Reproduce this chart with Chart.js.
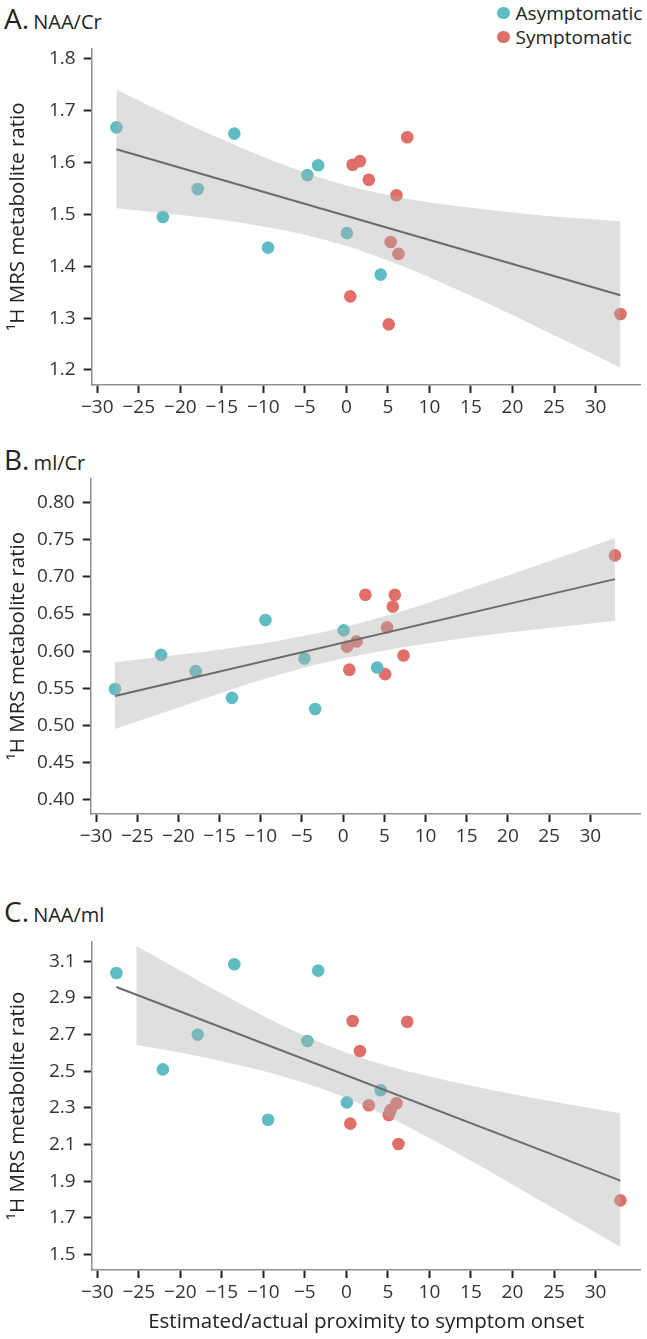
<!DOCTYPE html>
<html>
<head>
<meta charset="utf-8">
<script src="https://cdn.jsdelivr.net/npm/chart.js@4.4.1/dist/chart.umd.min.js"></script>
<style>
  body { margin: 0; background: #fff; }
  #wrap { position: relative; width: 647px; height: 1339px; overflow: hidden; font-family: 'Open Sans', sans-serif; color: #222; }
  canvas { position: absolute; left: 0; }
  .ttl { position: absolute; left: 4px; line-height: 1; white-space: nowrap; }
  .ttl .big { font-size: 28px; }
  .ttl .small { font-size: 20px; }
  .leg { position: absolute; left: 497px; font-size: 19px; line-height: 1; white-space: nowrap; }
  .leg i { display: inline-block; width: 12.6px; height: 12.6px; border-radius: 50%; vertical-align: middle; margin-right: 6px; position: relative; top: -2px; }
</style>
</head>
<body>
<div id="wrap">
  <div class="ttl" style="top:4px"><span class="big">A.</span> <span class="small">NAA/Cr</span></div>
  <div class="ttl" style="top:445px"><span class="big">B.</span> <span class="small">ml/Cr</span></div>
  <div class="ttl" style="top:897px"><span class="big">C.</span> <span class="small">NAA/ml</span></div>
  <div class="leg" style="top:4px"><i style="background:#5ebcc2"></i>Asymptomatic</div>
  <div class="leg" style="top:28px"><i style="background:#df6f68"></i>Symptomatic</div>
  <canvas id="chartA" width="647" height="430" style="top:0px"></canvas>
  <canvas id="chartB" width="647" height="430" style="top:430px"></canvas>
  <canvas id="chartC" width="647" height="479" style="top:860px"></canvas>
</div>
<script>
// x positions (years to onset), same subjects in every panel
const xTicks = [-30, -25, -20, -15, -10, -5, 0, 5, 10, 15, 20, 25, 30]
const asymX = [-27.7, -22.1, -17.9, -13.5, -9.43, -4.7, -3.4, 0.06, 4.13]
const symX = [0.47, 0.75, 1.63, 2.7, 5.1, 5.33, 6.03, 6.27, 7.33, 33]

// A. NAA/Cr
const naaCrTicks = [1.2, 1.3, 1.4, 1.5, 1.6, 1.7, 1.8]
const naaCrAsym = [1.668, 1.495, 1.549, 1.656, 1.436, 1.576, 1.595, 1.464, 1.384]
const naaCrSym = [1.342, 1.596, 1.603, 1.567, 1.288, 1.447, 1.537, 1.424, 1.649, 1.308]

// B. ml/Cr
const miCrTicks = [0.40, 0.45, 0.50, 0.55, 0.60, 0.65, 0.70, 0.75, 0.80]
const miCrAsym = [0.549, 0.595, 0.573, 0.537, 0.642, 0.590, 0.522, 0.628, 0.578]
const miCrSym = [0.606, 0.575, 0.613, 0.676, 0.569, 0.632, 0.660, 0.676, 0.594, 0.729]

// C. NAA/ml
const naaMiTicks = [1.5, 1.7, 1.9, 2.1, 2.3, 2.5, 2.7, 2.9, 3.1]
const naaMiAsym = [3.036, 2.510, 2.700, 3.084, 2.235, 2.665, 3.049, 2.330, 2.396]
const naaMiSym = [2.214, 2.774, 2.610, 2.314, 2.261, 2.288, 2.325, 2.103, 2.770, 1.795]

// fitted lines
const fitX = [-27.7, 33]
const naaCrFit = [1.626, 1.344]
const miCrFit = [0.5395, 0.697]
const naaMiFit = [2.96, 1.903]

// confidence bands
const bandX = [-27.7, -20, -15, -10, -5, 0, 5, 10, 15, 20, 25, 33]
const naaCrHi = [1.741, 1.681, 1.645, 1.611, 1.581, 1.556, 1.538, 1.523, 1.513, 1.504, 1.496, 1.487]
const naaCrLo = [1.512, 1.499, 1.490, 1.477, 1.461, 1.439, 1.411, 1.379, 1.343, 1.306, 1.267, 1.205]
const miCrHi = [0.585, 0.595, 0.602, 0.610, 0.620, 0.632, 0.647, 0.664, 0.683, 0.702, 0.721, 0.752]
const miCrLo = [0.495, 0.524, 0.543, 0.561, 0.577, 0.590, 0.601, 0.610, 0.618, 0.625, 0.631, 0.641]
const bandXC = [-25.3, -20, -15, -10, -5, 0, 5, 10, 15, 20, 25, 33]
const naaMiHi = [3.184, 3.050, 2.923, 2.802, 2.693, 2.601, 2.529, 2.471, 2.421, 2.376, 2.334, 2.271]
const naaMiLo = [2.643, 2.602, 2.555, 2.501, 2.436, 2.354, 2.252, 2.136, 2.011, 1.882, 1.751, 1.540]

const TEAL = "#5ebcc2"
const RED = "#df6f68"
const FONT = "'Open Sans', sans-serif"

const pts = (xs, ys) => xs.map((x, i) => ({ x: x, y: ys[i] }))
const minus = (v) => (v < 0 ? "\u2212" + Math.abs(v) : String(v))

function draw(id, p) {
  // lower order is painted later, so the band sits over the points
  const datasets = [
    {
      type: "line",
      data: pts(fitX, p.fit),
      borderColor: "#6b6b6b",
      borderWidth: 2,
      pointRadius: 0,
      fill: false,
      order: 1,
    },
    {
      type: "line",
      data: pts(p.bandX, p.hi),
      borderWidth: 0,
      pointRadius: 0,
      backgroundColor: "rgba(175,175,175,0.4)",
      fill: "+1",
      cubicInterpolationMode: "monotone",
      order: 2,
    },
    {
      type: "line",
      data: pts(p.bandX, p.lo),
      borderWidth: 0,
      pointRadius: 0,
      fill: false,
      cubicInterpolationMode: "monotone",
      order: 2,
    },
    {
      label: "Asymptomatic",
      data: pts(asymX, p.asym),
      backgroundColor: TEAL,
      pointRadius: 6.3,
      pointBorderWidth: 0,
      order: 3,
    },
    {
      label: "Symptomatic",
      data: pts(symX, p.sym),
      backgroundColor: RED,
      pointRadius: 6.3,
      pointBorderWidth: 0,
      order: 3,
    },
  ]

  new Chart(document.getElementById(id), {
    type: "scatter",
    data: { datasets },
    options: {
      responsive: false,
      animation: false,
      layout: { padding: { top: p.top, left: 0, right: p.right, bottom: 0 } },
      plugins: { legend: { display: false }, tooltip: { enabled: false } },
      scales: {
        x: {
          type: "linear",
          min: p.xMin,
          max: p.xMax,
          afterBuildTicks: (s) => { s.ticks = xTicks.map((v) => ({ value: v })) },
          afterFit: (s) => { s.height = p.xH },
          grid: { drawOnChartArea: false, drawTicks: true, tickLength: 8, tickWidth: 2, tickColor: "#222" },
          border: { display: true, color: "#8f8f8f", width: 1.5 },
          ticks: {
            autoSkip: false,
            maxRotation: 0,
            minRotation: 0,
            padding: 3,
            color: "#333",
            font: { family: FONT, size: 19 },
            callback: (v) => minus(v),
          },
          title: {
            display: !!p.xTitle,
            text: p.xTitle || "",
            color: "#222",
            font: { family: FONT, size: 20.5 },
            padding: { top: 2, bottom: 5 },
          },
        },
        y: {
          type: "linear",
          min: p.yMin,
          max: p.yMax,
          afterBuildTicks: (s) => { s.ticks = p.yTicks.map((v) => ({ value: v })) },
          afterFit: (s) => { s.width = p.yW },
          grid: { drawOnChartArea: false, drawTicks: true, tickLength: 8, tickWidth: 2, tickColor: "#222" },
          border: { display: true, color: "#8f8f8f", width: 1.5 },
          ticks: {
            padding: 8,
            color: "#333",
            font: { family: FONT, size: 19 },
            callback: (v) => v.toFixed(p.dec),
          },
          title: {
            display: true,
            text: "\u00b9H MRS metabolite ratio",
            color: "#222",
            font: { family: FONT, size: 20.5 },
            padding: { top: 6, bottom: 4 },
          },
        },
      },
    },
  })
}

draw("chartA", {
  asym: naaCrAsym, sym: naaCrSym, fit: naaCrFit,
  bandX: bandX, hi: naaCrHi, lo: naaCrLo,
  yTicks: naaCrTicks, dec: 1, yMin: 1.171, yMax: 1.8206,
  xMin: -30.67, xMax: 35.44,
  top: 48.3, right: 0, xH: 45, yW: 91.7,
})

draw("chartB", {
  asym: miCrAsym, sym: miCrSym, fit: miCrFit,
  bandX: bandX, hi: miCrHi, lo: miCrLo,
  yTicks: miCrTicks, dec: 2, yMin: 0.3805, yMax: 0.8329,
  xMin: -30.65, xMax: 36.04,
  top: 48.3, right: 7, xH: 46, yW: 90.7,
})

draw("chartC", {
  asym: naaMiAsym, sym: naaMiSym, fit: naaMiFit,
  bandX: bandXC, hi: naaMiHi, lo: naaMiLo,
  yTicks: naaMiTicks, dec: 1, yMin: 1.415, yMax: 3.207,
  xMin: -30.67, xMax: 35.44,
  top: 81.7, right: 0, xH: 69, yW: 91.7,
  xTitle: "Estimated/actual proximity to symptom onset",
})
</script>
</body>
</html>
